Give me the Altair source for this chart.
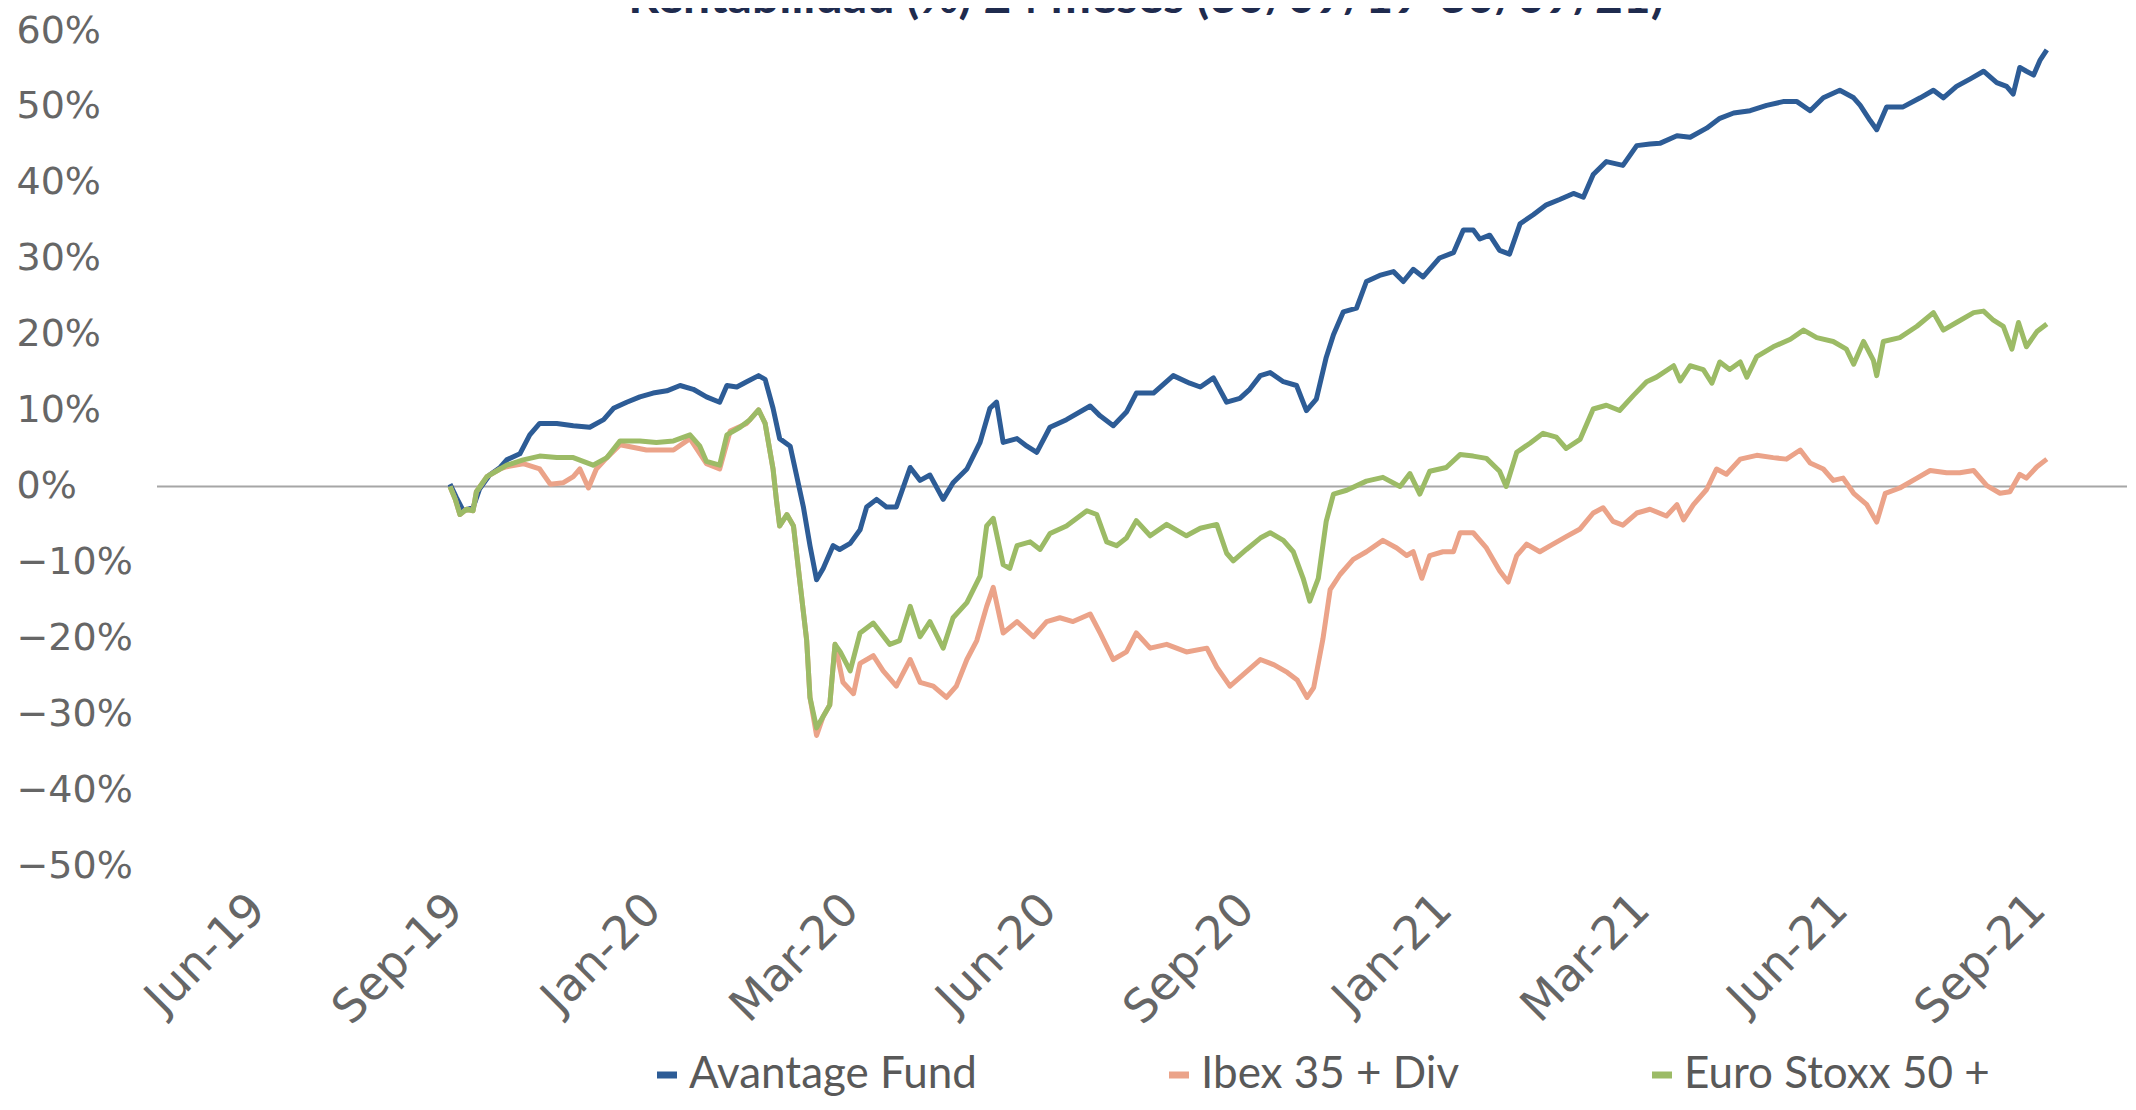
import altair as alt
import pandas as pd

title_text = "Rentabilidad (%) 24 meses (30/09/19-30/09/21)"
series_names = ["Avantage Fund", "Ibex 35 + Div", "Euro Stoxx 50 +"]
series_colors = ["#2D5C96", "#EBA389", "#9CBB66"]

tick_labels = ["Jun-19", "Sep-19", "Jan-20", "Mar-20", "Jun-20",
               "Sep-20", "Jan-21", "Mar-21", "Jun-21", "Sep-21"]
tick_pos = [0, 3, 6, 9, 12, 15, 18, 21, 24, 27]   # months after Jun-19
y_ticks = [-50, -40, -30, -20, -10, 0, 10, 20, 30, 40, 50, 60]

# ---- Avantage Fund (months, % return)
avantage_t = [
    2.90, 3.00, 3.10, 3.25, 3.35, 3.50, 3.66, 3.76, 3.96, 4.11,
    4.26, 4.52, 4.77, 5.02, 5.23, 5.38, 5.58, 5.78, 5.98, 6.19,
    6.39, 6.59, 6.79, 6.99, 7.10, 7.25, 7.40, 7.58, 7.68, 7.80,
    7.90, 8.06, 8.16, 8.26, 8.36, 8.46, 8.56, 8.71, 8.81, 8.97,
    9.12, 9.22, 9.37, 9.52, 9.67, 9.88, 10.03, 10.18, 10.38, 10.53,
    10.74, 10.94, 11.09, 11.19, 11.29, 11.50, 11.65, 11.80, 12.00, 12.25,
    12.61, 12.76, 12.96, 13.16, 13.31, 13.57, 13.87, 14.12, 14.28, 14.48,
    14.68, 14.88, 15.03, 15.19, 15.34, 15.54, 15.74, 15.89, 16.04, 16.19,
    16.30, 16.45, 16.65, 16.80, 17.00, 17.21, 17.36, 17.51, 17.66, 17.91,
    18.12, 18.27, 18.42, 18.52, 18.67, 18.82, 18.97, 19.13, 19.33, 19.53,
    19.73, 19.94, 20.09, 20.24, 20.44, 20.69, 20.90, 21.10, 21.25, 21.51,
    21.71, 21.96, 22.16, 22.37, 22.62, 22.87, 23.12, 23.33, 23.53, 23.73,
    23.98, 24.19, 24.29, 24.44, 24.54, 24.69, 24.94, 25.20, 25.40, 25.55,
    25.75, 25.96, 26.16, 26.36, 26.51, 26.61, 26.71, 26.81, 26.92, 27.02,
    27.12,
]
avantage_v = [
    0.3, -1.5, -3.2, -2.8, -0.3, 1.5, 2.5, 3.5, 4.3, 6.8,
    8.3, 8.3, 8.0, 7.8, 8.8, 10.3, 11.1, 11.8, 12.3, 12.6,
    13.3, 12.8, 11.8, 11.1, 13.3, 13.1, 13.8, 14.6, 14.1, 10.3,
    6.3, 5.3, 1.3, -2.7, -7.8, -12.3, -10.8, -7.8, -8.3, -7.5,
    -5.7, -2.7, -1.7, -2.7, -2.7, 2.5, 0.8, 1.5, -1.7, 0.5,
    2.3, 5.8, 10.3, 11.1, 5.8, 6.3, 5.3, 4.5, 7.8, 8.8,
    10.6, 9.3, 8.0, 9.8, 12.3, 12.3, 14.6, 13.6, 13.1, 14.3,
    11.1, 11.6, 12.8, 14.6, 15.0, 13.8, 13.3, 10.0, 11.5, 17.0,
    20.0, 23.0, 23.5, 27.0, 27.8, 28.3, 27.0, 28.6, 27.6, 30.1,
    30.8, 33.8, 33.8, 32.6, 33.1, 31.1, 30.6, 34.6, 35.8, 37.1,
    37.8, 38.6, 38.1, 41.1, 42.8, 42.3, 44.9, 45.1, 45.2, 46.2,
    46.0, 47.2, 48.5, 49.2, 49.5, 50.2, 50.7, 50.7, 49.5, 51.2,
    52.2, 51.2, 50.2, 48.2, 47.0, 50.0, 50.0, 51.2, 52.2, 51.2,
    52.7, 53.7, 54.7, 53.2, 52.7, 51.7, 55.2, 54.7, 54.2, 56.2,
    57.5,
]

# ---- Ibex 35 + Div
ibex_t = [
    2.90, 2.98, 3.05, 3.15, 3.25, 3.30, 3.46, 3.66, 3.76, 4.01,
    4.26, 4.42, 4.62, 4.77, 4.87, 5.00, 5.12, 5.28, 5.48, 5.88,
    6.29, 6.54, 6.79, 6.99, 7.15, 7.40, 7.58, 7.68, 7.80, 7.85,
    7.90, 8.01, 8.11, 8.21, 8.31, 8.36, 8.46, 8.56, 8.66, 8.74,
    8.86, 9.02, 9.12, 9.32, 9.47, 9.67, 9.88, 10.03, 10.23, 10.43,
    10.58, 10.74, 10.89, 11.04, 11.14, 11.29, 11.50, 11.75, 11.95, 12.15,
    12.35, 12.61, 12.76, 12.96, 13.16, 13.31, 13.52, 13.77, 14.07, 14.38,
    14.53, 14.73, 14.93, 15.19, 15.40, 15.60, 15.75, 15.90, 16.00, 16.14,
    16.25, 16.40, 16.60, 16.80, 17.05, 17.26, 17.41, 17.51, 17.64, 17.76,
    17.96, 18.12, 18.22, 18.42, 18.62, 18.82, 18.95, 19.08, 19.23, 19.43,
    19.63, 19.83, 20.04, 20.24, 20.39, 20.54, 20.69, 20.90, 21.10, 21.35,
    21.51, 21.61, 21.76, 21.96, 22.11, 22.26, 22.47, 22.72, 22.97, 23.17,
    23.38, 23.53, 23.73, 23.88, 24.03, 24.19, 24.39, 24.54, 24.67, 24.89,
    25.15, 25.35, 25.60, 25.80, 26.01, 26.21, 26.41, 26.56, 26.71, 26.81,
    26.97, 27.12,
]
ibex_v = [
    0.0, -1.7, -3.7, -3.0, -3.2, -0.7, 1.3, 2.3, 2.6, 3.0,
    2.3, 0.3, 0.5, 1.3, 2.3, -0.2, 2.3, 3.8, 5.5, 4.8,
    4.8, 6.3, 3.0, 2.3, 7.3, 8.3, 10.1, 8.3, 2.3, -1.7,
    -5.2, -3.7, -5.2, -12.8, -20.3, -27.8, -32.8, -30.3, -28.8, -20.8,
    -25.8, -27.3, -23.3, -22.3, -24.3, -26.3, -22.8, -25.8, -26.3, -27.8,
    -26.3, -22.8, -20.3, -15.8, -13.3, -19.3, -17.8, -19.8, -17.8, -17.3,
    -17.8, -16.8, -19.3, -22.8, -21.8, -19.3, -21.3, -20.8, -21.8, -21.3,
    -23.8, -26.3, -24.8, -22.8, -23.5, -24.5, -25.5, -27.8, -26.5, -20.1,
    -13.6, -11.6, -9.6, -8.6, -7.1, -8.1, -9.1, -8.6, -12.1, -9.1,
    -8.6, -8.6, -6.1, -6.1, -8.1, -11.1, -12.6, -9.1, -7.6, -8.6,
    -7.6, -6.6, -5.6, -3.5, -2.8, -4.6, -5.1, -3.5, -3.0, -3.9,
    -2.4, -4.4, -2.4, -0.4, 2.3, 1.6, 3.6, 4.1, 3.8, 3.6,
    4.8, 3.1, 2.3, 0.8, 1.1, -0.9, -2.4, -4.7, -0.9, -0.2,
    1.1, 2.1, 1.8, 1.8, 2.1, 0.1, -0.9, -0.7, 1.6, 1.1,
    2.6, 3.6,
]

# ---- Euro Stoxx 50 +
stoxx_t = [
    2.90, 2.98, 3.05, 3.15, 3.25, 3.30, 3.46, 3.66, 3.76, 4.01,
    4.26, 4.52, 4.77, 4.92, 5.07, 5.28, 5.48, 5.78, 6.03, 6.29,
    6.54, 6.69, 6.79, 6.99, 7.10, 7.30, 7.45, 7.58, 7.68, 7.80,
    7.85, 7.90, 8.01, 8.11, 8.21, 8.31, 8.36, 8.46, 8.56, 8.66,
    8.74, 8.82, 8.97, 9.12, 9.32, 9.57, 9.72, 9.88, 10.03, 10.18,
    10.38, 10.53, 10.74, 10.94, 11.04, 11.14, 11.29, 11.39, 11.50, 11.70,
    11.85, 12.00, 12.25, 12.56, 12.71, 12.86, 13.01, 13.16, 13.31, 13.52,
    13.77, 14.07, 14.28, 14.53, 14.68, 14.78, 14.98, 15.19, 15.34, 15.54,
    15.69, 15.84, 15.94, 16.07, 16.19, 16.30, 16.50, 16.80, 17.05, 17.31,
    17.46, 17.61, 17.76, 18.01, 18.22, 18.42, 18.62, 18.82, 18.92, 19.08,
    19.28, 19.48, 19.68, 19.83, 20.04, 20.24, 20.44, 20.64, 20.85, 21.05,
    21.20, 21.46, 21.56, 21.71, 21.91, 22.04, 22.16, 22.31, 22.47, 22.57,
    22.72, 22.97, 23.23, 23.43, 23.63, 23.88, 24.08, 24.19, 24.34, 24.49,
    24.54, 24.64, 24.89, 25.15, 25.40, 25.55, 25.75, 26.01, 26.16, 26.31,
    26.46, 26.59, 26.69, 26.81, 26.97, 27.12,
]
stoxx_v = [
    0.0, -1.7, -3.7, -3.0, -3.2, -0.7, 1.3, 2.3, 2.8, 3.5,
    4.0, 3.8, 3.8, 3.3, 2.8, 3.8, 6.0, 6.0, 5.8, 6.0,
    6.8, 5.3, 3.3, 2.8, 6.8, 7.8, 8.8, 10.1, 8.3, 2.3,
    -1.7, -5.2, -3.7, -5.2, -12.8, -20.3, -27.8, -31.8, -30.3, -28.8,
    -20.8, -21.8, -24.3, -19.3, -18.0, -20.8, -20.3, -15.8, -19.8, -17.8,
    -21.3, -17.3, -15.3, -11.8, -5.2, -4.2, -10.3, -10.8, -7.8, -7.3,
    -8.3, -6.2, -5.2, -3.2, -3.7, -7.3, -7.8, -6.8, -4.5, -6.5,
    -5.0, -6.5, -5.5, -5.0, -8.8, -9.8, -8.3, -6.8, -6.1, -7.1,
    -8.6, -12.1, -15.1, -12.1, -4.6, -1.0, -0.5, 0.7, 1.2, 0.0,
    1.7, -1.0, 2.0, 2.5, 4.2, 4.0, 3.7, 2.0, 0.0, 4.5,
    5.7, 7.0, 6.5, 5.0, 6.2, 10.2, 10.7, 10.0, 12.0, 13.8,
    14.4, 15.9, 13.9, 15.9, 15.4, 13.6, 16.4, 15.4, 16.4, 14.4,
    17.1, 18.4, 19.4, 20.6, 19.6, 19.1, 18.1, 16.1, 19.1, 16.6,
    14.6, 19.1, 19.6, 21.1, 22.9, 20.6, 21.6, 22.9, 23.1, 21.9,
    21.1, 18.1, 21.6, 18.4, 20.4, 21.4,
]

frames = []
for name, ts, vs in zip(series_names,
                        [avantage_t, ibex_t, stoxx_t],
                        [avantage_v, ibex_v, stoxx_v]):
    frames.append(pd.DataFrame({"t": ts, "v": vs, "serie": name}))
df = pd.concat(frames, ignore_index=True)

label_js = "[" + ",".join("'" + s + "'" for s in tick_labels) + "]"
x_label_expr = label_js + "[round(datum.value / 3)]"
y_label_expr = "(datum.value < 0 ? '\u2212' + abs(datum.value) : '' + datum.value) + '%'"

x_enc = alt.X(
    "t:Q",
    scale=alt.Scale(domain=[-1.544, 28.336], nice=False, zero=False),
    axis=alt.Axis(values=tick_pos, labelExpr=x_label_expr, labelAngle=-45,
                  labelAlign="right", labelBaseline="top", labelPadding=20,
                  labelOffset=-17,
                  labelFont="DejaVu Sans", labelFontSize=46, labelColor="#666666",
                  ticks=False, domain=False, grid=False, title=None,
                  labelOverlap=False, labelFlush=False, labelBound=False),
)
y_enc = alt.Y(
    "v:Q",
    scale=alt.Scale(domain=[-50, 60], nice=False, zero=False),
    axis=alt.Axis(values=y_ticks, labelExpr=y_label_expr, labelAlign="left",
                  labelBaseline="middle", labelPadding=141,
                  labelFont="DejaVu Sans", labelFontSize=38, labelColor="#666666",
                  ticks=False, domain=False, grid=False, title=None,
                  labelOverlap=False, labelFlush=False, labelBound=False),
)
color_enc = alt.Color(
    "serie:N",
    scale=alt.Scale(domain=series_names, range=series_colors),
    legend=alt.Legend(title=None, orient="none", legendX=488, legendY=1022,
                      direction="horizontal", columns=3, columnPadding=178,
                      gridAlign="each", padding=0,
                      labelFont="Lato", labelFontSize=44, labelColor="#595959",
                      labelOffset=0, labelLimit=0,
                      symbolType="stroke", symbolStrokeWidth=7, symbolSize=400),
)

zero_line = alt.Chart(pd.DataFrame({"z": [0]})).mark_rule(
    color="#A6A6A6", strokeWidth=2
).encode(y=alt.datum(0))

lines = []
for name in series_names:
    lines.append(
        alt.Chart(df).transform_filter(alt.datum.serie == name)
        .mark_line(strokeWidth=5, strokeJoin="round")
        .encode(x=x_enc, y=y_enc, color=color_enc)
    )

title_mark = alt.Chart(pd.DataFrame({"txt": [title_text]})).mark_text(
    font="Lato", fontSize=48, fontWeight="bold", color="#1F2B4E",
    baseline="alphabetic", align="center"
).encode(x=alt.value(989), y=alt.value(-18), text="txt:N")

chart = alt.layer(zero_line, *lines, title_mark).properties(
    width=1970, height=835,
    autosize=alt.AutoSizeParams(type="none"),
    padding={"left": 149, "top": 23, "right": 0, "bottom": 234},
    background="white",
).configure_view(stroke=None)

chart.save("out.html", embed_options={"renderer": "svg", "actions": False})
